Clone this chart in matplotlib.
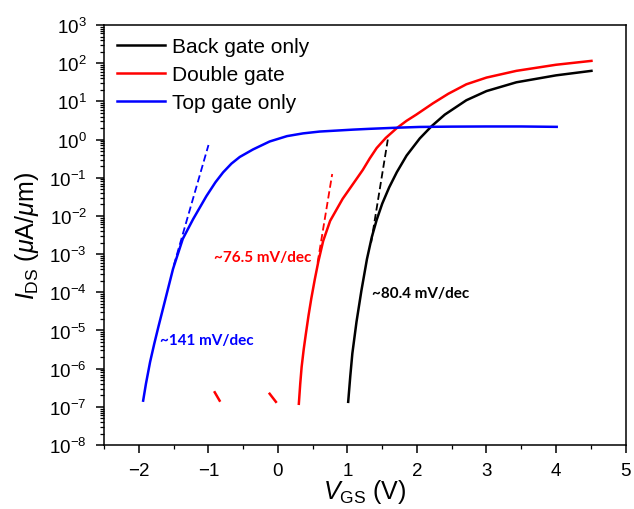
import matplotlib
matplotlib.use("Agg")
import matplotlib.pyplot as plt
from matplotlib.ticker import LogLocator, MultipleLocator, NullFormatter

plt.rcParams["font.family"] = ["Liberation Sans", "DejaVu Sans"]
plt.rcParams["mathtext.fontset"] = "custom"
plt.rcParams["mathtext.rm"] = "Liberation Sans"
plt.rcParams["mathtext.it"] = "Liberation Sans:italic"

# transfer curves, I_DS in uA/um
back_vgs = [1.01, 1.04, 1.07, 1.13, 1.20, 1.28, 1.35, 1.42, 1.50, 1.60, 1.71,
            1.85, 2.04, 2.21, 2.40, 2.71, 3.0, 3.43, 4.0, 4.51]
back_ids = [1.35e-7, 6.3e-7, 2.5e-6, 1.7e-5, 1.1e-4, 7.4e-4, 2.8e-3, 7.9e-3,
            2.1e-2, 5.6e-2, 0.14, 0.38, 1.07, 2.24, 4.5, 10.7, 18.6, 31.6,
            48, 63]

double_vgs = [0.30, 0.32, 0.34, 0.37, 0.40, 0.44, 0.48, 0.53, 0.58, 0.65,
              0.75, 0.93, 1.13, 1.22, 1.32, 1.42, 1.55, 1.71, 1.85, 1.99,
              2.23, 2.45, 2.71, 3.0, 3.43, 4.0, 4.51]
double_ids = [1.2e-7, 4e-7, 1.1e-6, 3.2e-6, 7.9e-6, 2.5e-5, 7e-5, 2.2e-4,
              6.3e-4, 2.2e-3, 7.4e-3, 2.8e-2, 9.3e-2, 0.16, 0.32, 0.60, 1.1,
              2.0, 3.1, 4.5, 8.9, 15.8, 28, 42, 63, 91, 115]
# two short noise fragments of the double gate sweep
double_frag1_vgs = [-0.91, -0.84]
double_frag1_ids = [2.4e-7, 1.45e-7]
double_frag2_vgs = [-0.12, -0.03]
double_frag2_ids = [2.2e-7, 1.35e-7]

top_vgs = [-1.94, -1.90, -1.84, -1.78, -1.72, -1.63, -1.51, -1.37, -1.22,
           -1.03, -0.90, -0.79, -0.67, -0.55, -0.36, -0.12, 0.13, 0.36, 0.60,
           1.08, 1.32, 1.70, 2.04, 2.5, 3.0, 3.5, 4.01]
top_ids = [1.45e-7, 4e-7, 1.5e-6, 4.5e-6, 1.26e-5, 5.6e-5, 4.1e-4, 2.5e-3,
           8.3e-3, 3.3e-2, 7.6e-2, 0.138, 0.234, 0.35, 0.55, 0.89, 1.23,
           1.45, 1.62, 1.82, 1.91, 2.04, 2.14, 2.18, 2.2, 2.2, 2.15]

# subthreshold swing fit lines
fit_back_vgs = [1.34, 1.58]
fit_back_ids = [2e-3, 1.0]
fit_double_vgs = [0.57, 0.78]
fit_double_ids = [6e-4, 0.125]
fit_top_vgs = [-1.5, -1.0]
fit_top_ids = [5e-4, 0.72]

fig = plt.figure(figsize=(6.34, 5.10), dpi=100)
ax = fig.add_axes([0.1644, 0.1255, 0.8222, 0.8235])

lw = 1.8
ax.plot(back_vgs, back_ids, color="black", lw=lw, label="Back gate only")
ax.plot(double_vgs, double_ids, color="#ff0000", lw=lw, label="Double gate")
ax.plot(double_frag1_vgs, double_frag1_ids, color="#ff0000", lw=lw)
ax.plot(double_frag2_vgs, double_frag2_ids, color="#ff0000", lw=lw)
ax.plot(top_vgs, top_ids, color="#0000ff", lw=lw, label="Top gate only")

ax.plot(fit_back_vgs, fit_back_ids, color="black", lw=1.3, ls=(0, (4, 2)))
ax.plot(fit_double_vgs, fit_double_ids, color="#ff0000", lw=1.3, ls=(0, (4, 2)))
ax.plot(fit_top_vgs, fit_top_ids, color="#0000ff", lw=1.3, ls=(0, (4, 2)))

ax.set_yscale("log")
ax.set_xlim(-2.5, 5)
ax.set_ylim(1e-8, 1e3)
ax.set_xticks(range(-2, 6))
ax.xaxis.set_minor_locator(MultipleLocator(0.5))
ax.set_yticks([10.0 ** k for k in range(-8, 4)])
ax.set_yticklabels(["$10^{%d}$" % k for k in range(-8, 4)])
ax.yaxis.set_minor_locator(LogLocator(base=10, subs=range(2, 10), numticks=50))
ax.yaxis.set_minor_formatter(NullFormatter())
ax.tick_params(which="major", direction="out", length=6, width=1.1,
               labelsize=13.5, top=False, right=False)
ax.tick_params(axis="x", which="major", pad=6)
ax.tick_params(axis="y", which="major", pad=6.5)
ax.tick_params(which="minor", direction="out", length=3, width=0.9,
               top=False, right=False)
for s in ax.spines.values():
    s.set_linewidth(1.1)

ax.set_xlabel(r"$V_{\rm GS}$ (V)", fontsize=18, labelpad=-1)
ax.set_ylabel(r"$I_{\rm DS}$ ($\mu$A/$\mu$m)", fontsize=18, labelpad=6)

ax.legend(loc="upper left", bbox_to_anchor=(-0.004, 1.005), frameon=False,
          fontsize=15, handlelength=2.3, handletextpad=0.35,
          labelspacing=0.42, borderaxespad=0.3)

ann = dict(fontweight="bold", fontsize=11, family=["Lato", "DejaVu Sans"],
           va="center", ha="left")
ax.text(-1.7, 10 ** -5.25, "~141 mV/dec", color="#0000ff", **ann)
ax.text(-0.92, 10 ** -3.07, "~76.5 mV/dec", color="#ff0000", **ann)
ax.text(1.35, 10 ** -4.03, "~80.4 mV/dec", color="black", **ann)

fig.savefig("out.png", dpi=100)
